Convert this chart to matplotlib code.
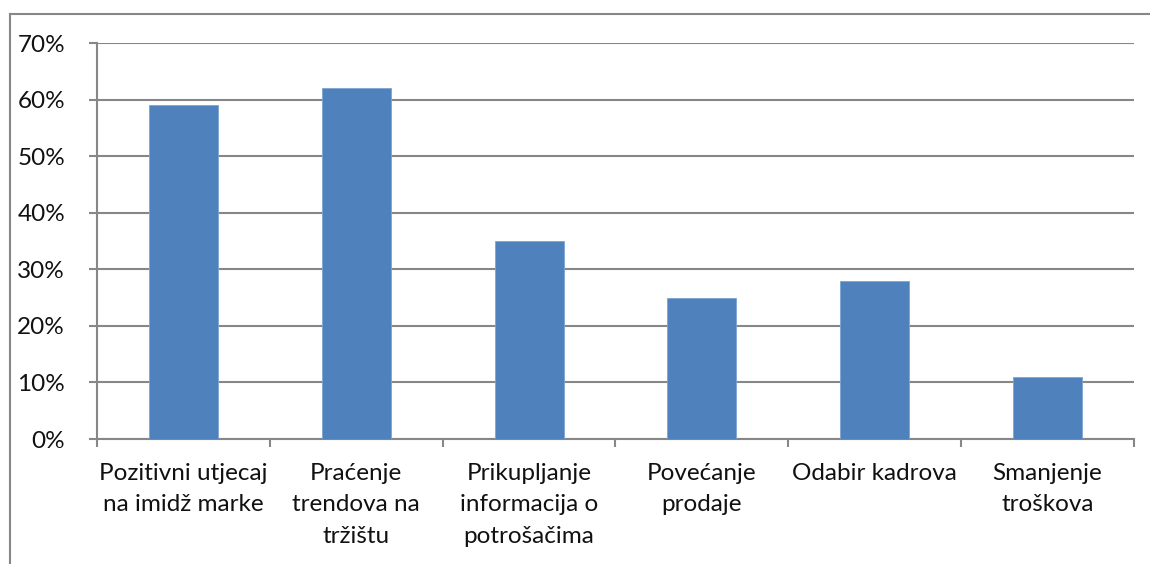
import matplotlib.pyplot as plt
from matplotlib.lines import Line2D
from matplotlib.ticker import FixedLocator

categories = ["Pozitivni utjecaj\nna imidž marke", "Praćenje\ntrendova na\ntržištu",
              "Prikupljanje\ninformacija o\npotrošačima", "Povećanje\nprodaje",
              "Odabir kadrova", "Smanjenje\ntroškova"]
values = [59, 62, 35, 25, 28, 11]
yticks = [0, 10, 20, 30, 40, 50, 60, 70]

plt.rcParams["font.family"] = ["Lato", "DejaVu Sans"]
grey = "#878787"

fig = plt.figure(figsize=(11.5, 5.64), dpi=100)
ax = fig.add_axes([97 / 1150, 1 - 439 / 564, (1134 - 97) / 1150, (439 - 43) / 564])

x = list(range(len(values)))
ax.bar(x, values, width=0.4, color="#4F81BD", edgecolor="#7EA3D3", linewidth=0.6, zorder=3)

ax.set_xlim(-0.5, len(values) - 0.5)
ax.set_ylim(0, 70)
ax.set_yticks(yticks)
ax.set_yticklabels([f"{v}%" for v in yticks], fontsize=17.5, color="#111111")
ax.yaxis.grid(True, color=grey, linewidth=1.5, zorder=0)

# category labels without ticks, boundary ticks as minor
ax.set_xticks(x)
ax.set_xticklabels(categories, fontsize=17.5, linespacing=1.63, va="top", color="#111111")
ax.tick_params(axis="x", which="major", length=0, pad=17)
ax.xaxis.set_minor_locator(FixedLocator([i - 0.5 for i in range(len(values) + 1)]))
ax.tick_params(axis="x", which="minor", length=6, width=1.5, color=grey)
ax.tick_params(axis="y", length=6, width=1.5, color=grey, pad=17)

for side in ["top", "right"]:
    ax.spines[side].set_visible(False)
for side in ["left", "bottom"]:
    ax.spines[side].set_color(grey)
    ax.spines[side].set_linewidth(1.5)

# outer border (left and top visible)
fig.add_artist(Line2D([10 / 1150, 10 / 1150], [0, 1 - 14 / 564], transform=fig.transFigure,
                      color=grey, linewidth=1.5))
fig.add_artist(Line2D([10 / 1150, 1], [1 - 14 / 564, 1 - 14 / 564], transform=fig.transFigure,
                      color=grey, linewidth=1.5))

fig.savefig("out.png", dpi=100)
